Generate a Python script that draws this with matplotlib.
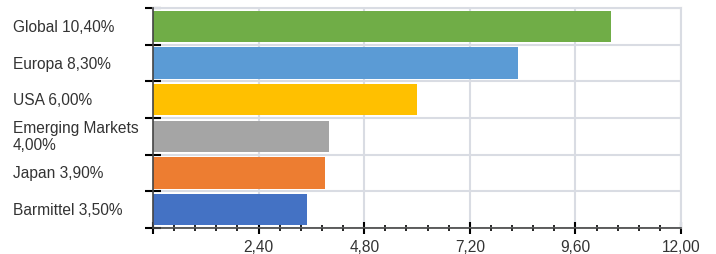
import numpy as np
import matplotlib.pyplot as plt
from matplotlib.ticker import MultipleLocator, FuncFormatter
import matplotlib.transforms as mtransforms

plt.rcParams['font.family'] = ['Liberation Sans', 'DejaVu Sans']

# Data (top to bottom)
labels = ['Global 10,40%', 'Europa 8,30%', 'USA 6,00%',
          'Emerging Markets\n4,00%', 'Japan 3,90%', 'Barmittel 3,50%']
values = [10.40, 8.30, 6.00, 4.00, 3.90, 3.50]
colors = ['#70ad47', '#5b9bd5', '#ffc000', '#a5a5a5', '#ed7d31', '#4472c4']

grid_col = '#d9dce3'

fig = plt.figure(figsize=(7.16, 2.55), dpi=100)
ax = fig.add_axes([153 / 716, 26 / 255, 528 / 716, 220 / 255])

y = np.arange(len(values))
ax.barh(y, values, height=0.86, color=colors, zorder=3)
ax.set_ylim(len(values) - 0.5, -0.5)
ax.set_xlim(0, 12)

# x axis
ax.xaxis.set_major_locator(MultipleLocator(2.4))
ax.xaxis.set_minor_locator(MultipleLocator(0.48))
ax.xaxis.set_major_formatter(FuncFormatter(
    lambda v, p: '' if abs(v) < 1e-9 else f'{v:.2f}'.replace('.', ',')))
ax.tick_params(axis='x', which='major', direction='inout', length=8, width=1.5,
               color='black', labelsize=11.2, labelcolor='#333333', pad=4)
ax.tick_params(axis='x', which='minor', direction='inout', length=4, width=1.2,
               color='black')

# y axis: ticks at category boundaries, labels drawn as text
ax.set_yticks(np.arange(-0.5, len(values), 1.0))
ax.set_yticklabels([])
ax.tick_params(axis='y', which='major', direction='inout', length=12, width=1.5,
               color='black')

trans = mtransforms.blended_transform_factory(fig.transFigure, ax.transData)
for yi, lab in zip(y, labels):
    ax.text(13 / 716, yi, lab, transform=trans, ha='left', va='center',
            fontsize=11.2, color='#333333', linespacing=1.15)

# grid
ax.grid(True, which='major', color=grid_col, linewidth=1.5, zorder=0)
ax.set_axisbelow(True)
for s in ['top', 'right']:
    ax.spines[s].set_color(grid_col)
    ax.spines[s].set_linewidth(1.5)
for s in ['left', 'bottom']:
    ax.spines[s].set_color('#444444')
    ax.spines[s].set_linewidth(1.2)
    ax.spines[s].set_zorder(4)

fig.savefig('out.png', dpi=100)
